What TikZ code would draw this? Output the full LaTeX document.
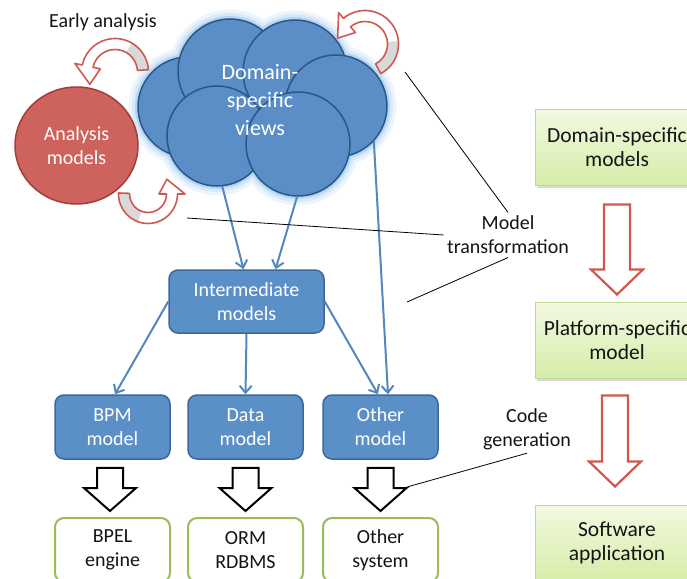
\documentclass[tikz,border=0pt]{standalone}
\usepackage{fontspec}
\setmainfont{Carlito}
\usetikzlibrary{positioning, shapes.geometric, arrows.meta, shadows, calc}

\definecolor{cloudblue}{RGB}{91,141,199}
\definecolor{cloudedge}{RGB}{40,88,136}
\definecolor{glowblue}{RGB}{184,214,244}
\definecolor{boxblue}{RGB}{91,143,200}
\definecolor{boxedge}{RGB}{60,104,155}
\definecolor{flowblue}{RGB}{84,134,192}
\definecolor{redfill}{RGB}{206,98,92}
\definecolor{rededge}{RGB}{160,62,58}
\definecolor{arrowred}{RGB}{208,88,80}
\definecolor{tailgray}{RGB}{217,217,217}
\definecolor{greentop}{RGB}{242,249,226}
\definecolor{greenbot}{RGB}{214,237,168}
\definecolor{greenedge}{RGB}{190,218,150}
\definecolor{sysedge}{RGB}{155,187,89}
\definecolor{textblack}{RGB}{20,20,20}

% curved arrow: centre, mid radius, tail angle, head angle, end of grey tail
\newcommand{\bentarrow}[5]{%
  \begin{scope}[shift={#1}]
    \fill[white] (#3:{#2+5.5}) arc[start angle=#3, end angle=#4, radius={#2+5.5}] -- (#4:{#2+13}) -- ({#4-38}:#2) -- (#4:{#2-13}) -- (#4:{#2-5.5}) arc[start angle=#4, end angle=#3, radius={#2-5.5}] -- cycle;
    \fill[tailgray] (#3:{#2+5.5}) arc[start angle=#3, end angle=#5, radius={#2+5.5}] -- (#5:{#2-5.5}) arc[start angle=#5, end angle=#3, radius={#2-5.5}] -- cycle;
    \draw[arrowred, line width=1.6pt, line join=round] (#3:{#2+5.5}) arc[start angle=#3, end angle=#4, radius={#2+5.5}] -- (#4:{#2+13}) -- ({#4-38}:#2) -- (#4:{#2-13}) -- (#4:{#2-5.5}) arc[start angle=#4, end angle=#3, radius={#2-5.5}] -- cycle;
  \end{scope}}

% hollow block arrow pointing down: style, top, tip, head length
\newcommand{\hollowdown}[4]{%
  \draw[#1] let \p1=#2, \p2=#3 in
    (\x1-13pt,\y1) -- (\x1+13pt,\y1) -- (\x1+13pt,\y2+#4) -- (\x1+26pt,\y2+#4)
    -- (\x1,\y2) -- (\x1-26pt,\y2+#4) -- (\x1-13pt,\y2+#4) -- cycle;}

\begin{document}
\begin{tikzpicture}[x=1pt, y=-1pt, font=\fontsize{20}{24}\selectfont,
    notetext/.style={align=center, text=textblack},
    cloudpart/.style={circle, draw=cloudedge, fill=cloudblue, line width=1.5pt, inner sep=0pt},
    bluebox/.style={rectangle, rounded corners=9pt, draw=boxedge, line width=1.5pt, fill=boxblue,
        text=white, align=center, minimum width=115pt, minimum height=64pt},
    sysbox/.style={rectangle, rounded corners=9pt, draw=sysedge, line width=2pt, fill=white,
        text=textblack, align=center, minimum width=115pt, minimum height=64pt},
    greenbox/.style={rectangle, draw=greenedge, line width=1pt, top color=greentop, bottom color=greenbot,
        drop shadow={shadow xshift=2pt, shadow yshift=-3pt, opacity=.3},
        text=textblack, align=center, font=\fontsize{21.5}{24}\selectfont,
        minimum width=164pt, minimum height=76pt},
    flow/.style={draw=flowblue, line width=2pt, -{Straight Barb[length=7pt, width=12pt]}},
    callout/.style={draw=black, line width=0.8pt},
    blackhollow/.style={draw=black, line width=2pt, fill=white, line join=miter},
    redhollow/.style={draw=arrowred, line width=2.2pt, fill=white, line join=miter}]
    \useasboundingbox (0,0) rectangle (687,578);
    \clip (0,0) rectangle (687,578);

    % cloud of domain-specific views
    \foreach \cx/\cy/\cr in {188/107/50, 230/71/52, 295/72/52, 336/106/51, 217/136/50, 298/144/52}
        \draw[glowblue!25, line width=19pt] (\cx,\cy) circle (\cr);
    \foreach \cx/\cy/\cr in {188/107/50, 230/71/52, 295/72/52, 336/106/51, 217/136/50, 298/144/52}
        \draw[glowblue!55, line width=12pt] (\cx,\cy) circle (\cr);
    \foreach \cx/\cy/\cr in {188/107/50, 230/71/52, 295/72/52, 336/106/51, 217/136/50, 298/144/52}
        \draw[glowblue, line width=6pt] (\cx,\cy) circle (\cr);
    \foreach \cx/\cy/\cr [count=\i] in {188/107/50, 230/71/52, 295/72/52, 336/106/51, 217/136/50, 298/144/52}
        \node[cloudpart, minimum size={2*\cr*1pt}] (c\i) at (\cx,\cy) {};
    \node[align=center, text=white, font=\fontsize{22}{28}\selectfont] (views) at (260,100) {Domain-\\specific\\views};

    \node[notetext] (early) at (103,22) {Early analysis};
    \node[ellipse, draw=rededge, fill=redfill, line width=1.5pt, text=white, align=center,
        minimum width=123pt, minimum height=117pt] (analysis) at (76.5,145.5) {Analysis\\models};

    % early analysis loops
    \bentarrow{(115,72)}{28}{-4}{-168}{-60}
    \bentarrow{(365,44)}{28}{62}{-130}{-5}
    \bentarrow{(148,194)}{24}{182}{0}{110}

    % model transformation
    \node[bluebox, minimum width=155pt, minimum height=63pt] (inter) at (246.5,301.5) {Intermediate\\models};
    \node[bluebox] (bpm) at (112.5,427) {BPM\\model};
    \node[bluebox] (data) at (245.5,427) {Data\\model};
    \node[bluebox] (other) at (380.5,427) {Other\\model};

    \node[sysbox] (bpel) at (112.5,550) {BPEL\\engine};
    \node[sysbox] (orm) at (245.5,550) {ORM\\RDBMS};
    \node[sysbox] (sys) at (380.5,550) {Other\\system};

    \draw[flow] (c5.-84) -- ([xshift=-3pt]inter.north);
    \draw[flow] (c6.-91) -- ([xshift=29pt]inter.north);
    \draw[flow] (c4.-43) -- ([xshift=7.5pt]other.north);
    \draw[flow] (inter.west) -- ([xshift=2.5pt]bpm.north);
    \draw[flow] (inter.south) -- (data.north);
    \draw[flow] (inter.east) -- ([xshift=-2.5pt]other.north);

    % code generation
    \hollowdown{blackhollow}{($(bpm.south)+(-2.5,8)$)}{($(bpel.north)+(-2.5,-6)$)}{23pt}
    \hollowdown{blackhollow}{($(data.south)+(0,8)$)}{($(orm.north)+(0,-6)$)}{23pt}
    \hollowdown{blackhollow}{($(other.south)+(0,8)$)}{($(sys.north)+(0,-6)$)}{23pt}

    % right column
    \node[greenbox] (dsm) at (617,147) {Domain-specific\\models};
    \node[greenbox] (psm) at (617,340) {Platform-specific\\model};
    \node[greenbox] (app) at (617,543) {Software\\application};
    \hollowdown{redhollow}{($(dsm.south)+(0,19)$)}{($(psm.north)+(0,-7)$)}{25pt}
    \hollowdown{redhollow}{($(psm.south)+(-2,17)$)}{($(app.north)+(-2,-18)$)}{25pt}

    % labels with callout lines
    \node[notetext] (mt) at (508,235) {Model\\transformation};
    \coordinate (mt1) at (405,72);
    \coordinate (mt2) at (187,218);
    \coordinate (mt3) at (407,302);
    \draw[callout] (mt1) -- (mt.north);
    \draw[callout] (mt2) -- (mt.west);
    \draw[callout] (mt3) -- (mt.south);

    \node[notetext] (cg) at (527,429) {Code\\generation};
    \coordinate (cg1) at (407,487);
    \draw[callout] (cg1) -- (cg.south);
\end{tikzpicture}
\end{document}
